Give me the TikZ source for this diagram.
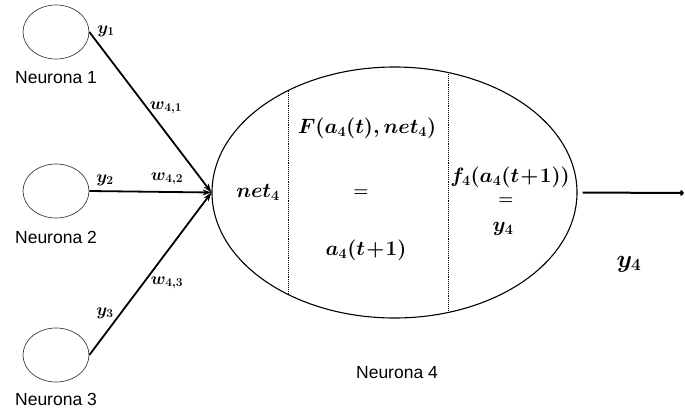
\documentclass[tikz,border=0pt]{standalone}
\usepackage{fontspec}
\setsansfont{Liberation Sans}
\usetikzlibrary{shapes.geometric,arrows.meta}
\newcommand{\fsmall}{\fontsize{19.5}{23}\selectfont\boldmath}
\begin{document}
\begin{tikzpicture}[x=1pt,y=-1pt,
  small/.style={ellipse, draw=black!75, line width=0.7pt, minimum width=66pt, minimum height=54pt, inner sep=0pt},
  bigell/.style={ellipse, draw, line width=1.1pt, minimum width=365pt, minimum height=251pt, inner sep=0pt},
  lbl/.style={font=\sffamily\fontsize{17.5}{20}\selectfont},
  wlab/.style={font=\fontsize{17}{20}\selectfont\boldmath, inner sep=0pt},
  mtxt/.style={font=\fontsize{20}{24}\selectfont\boldmath, inner sep=0pt},
  mtxtb/.style={font=\fsmall, inner sep=0pt},
  eqs/.style={font=\fontsize{16}{18}\selectfont\boldmath, inner sep=0pt},
  conn/.style={line width=1.8pt, -{Stealth[length=9pt,width=6pt]}},
  divider/.style={densely dotted, line width=0.9pt}
]
\useasboundingbox (0,0) rectangle (685,412);

% small neurons
\node[small] (n1) at (56,32) {};
\node[small] (n2) at (56,191) {};
\node[small] (n3) at (56,355) {};
\node[lbl] (l1) at (56,78) {Neurona 1};
\node[lbl] (l2) at (56,237) {Neurona 2};
\node[lbl] (l3) at (56,399) {Neurona 3};

% big neuron
\node[bigell] (big) at (394.5,192.5) {};
\node[lbl] (l4) at (397,373) {Neurona 4};

\begin{scope}
  \clip (394.5,192.5) ellipse [x radius=182.5pt, y radius=125.5pt];
  \draw[divider] (288,0) -- (288,412);
  \draw[divider] (448,0) -- (448,412);
\end{scope}

% connectors
\draw[conn] (n1.east) -- (big.west);
\draw[conn] (n2.east) -- (big.west);
\draw[conn] (n3.east) -- (big.west);
\coordinate (out) at (684,193);
\draw[line width=2pt, -{To[length=4pt,width=6pt]}, shorten <=5pt] (big.east) -- (out);

% edge labels
\node[wlab] (y1) at (106,31) {$y_1$};
\node[wlab] (w41) at (166,108) {$w_{4,1}$};
\node[wlab] (y2) at (105,180) {$y_2$};
\node[wlab] (w42) at (167,179) {$w_{4,2}$};
\node[wlab] (y3) at (105,313) {$y_3$};
\node[wlab] (w43) at (167,283) {$w_{4,3}$};

% inner texts
\node[mtxt] (net) at (258,192) {$net_4$};
\node[mtxt] (F) at (367,128) {$F\bigl(a_4(t),net_4\bigr)$};
\node[eqs] (eq1) at (361,193) {$=$};
\node[mtxt] (a4) at (366,250) {$a_4(t\!+\!1)$};
\node[mtxtb] (f4) at (510,177) {$f_4\bigl(a_4(t\!+\!1)\bigr)$};
\node[eqs] (eq2) at (506,201) {$=$};
\node[mtxt] (y4i) at (503,229) {$y_4$};
\node[font=\fontsize{26}{30}\selectfont\boldmath, inner sep=0pt] (y4o) at (629,264) {$y_4$};
\end{tikzpicture}
\end{document}
